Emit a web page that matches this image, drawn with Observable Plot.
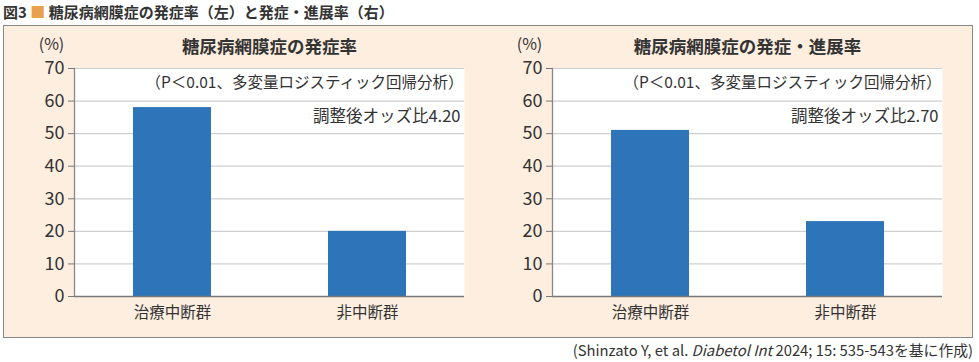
<!DOCTYPE html>
<html><head><meta charset="utf-8">
<script src="https://cdn.jsdelivr.net/npm/d3@7"></script>
<script src="https://cdn.jsdelivr.net/npm/@observablehq/plot@0.6"></script>
<style>
html,body{margin:0;padding:0;background:#fff;}
body{width:979px;height:362px;position:relative;overflow:hidden;font-family:"Noto Sans CJK JP","Noto Sans",sans-serif;color:#333;}
#title{position:absolute;left:3px;top:1px;font-size:15px;font-weight:bold;color:#333;white-space:nowrap;}
#title .sq{color:#e9a04c;}
#box{position:absolute;left:3px;top:25px;width:968px;height:311px;background:#fdeee0;border:1.5px solid #888;}
.panel{position:absolute;top:25px;}
#caption{position:absolute;right:6px;top:339px;font-size:14.8px;color:#333;white-space:nowrap;}
</style></head>
<body>
<div id="title">図3 <span class="sq">■</span> 糖尿病網膜症の発症率（左）と発症・進展率（右）</div>
<div id="box"></div>
<div id="left" class="panel" style="left:5px"></div>
<div id="right" class="panel" style="left:483px"></div>
<div id="caption">(Shinzato Y, et al. <i>Diabetol Int</i> 2024; 15: 535-543を基に作成)</div>
<script>
const categories = ["治療中断群", "非中断群"];
const leftValues = [58, 20];
const rightValues = [51, 23];
const yTicks = [0, 10, 20, 30, 40, 50, 60, 70];
const panelTitles = ["糖尿病網膜症の発症率", "糖尿病網膜症の発症・進展率"];
const pNote = "（P＜0.01、多変量ロジスティック回帰分析）";
const oddsNotes = ["調整後オッズ比4.20", "調整後オッズ比2.70"];
const unitLabel = "(%)";

const font = '"Noto Sans CJK JP","Noto Sans",sans-serif';

function makePanel(values, title, odds) {
  const data = categories.map((c, i) => ({cat: c, v: values[i]}));
  return Plot.plot({
    width: 479,
    height: 310,
    marginLeft: 69,
    marginRight: 20,
    marginTop: 43,
    marginBottom: 39,
    style: {fontFamily: font, background: "transparent", color: "#333", overflow: "visible"},
    x: {domain: categories, paddingInner: 0.6, paddingOuter: 0.3, label: null},
    y: {domain: [0, 70], ticks: yTicks, label: null},
    marks: [
      Plot.frame({fill: "white", stroke: null}),
      Plot.gridY(yTicks, {stroke: "#cfcfcf", strokeOpacity: 1, strokeWidth: 1.2}),
      Plot.barY(data, {x: "cat", y: "v", fill: "#2e74b8"}),
      Plot.ruleY([0], {stroke: "#777", strokeWidth: 1.3}),
      Plot.frame({anchor: "left", stroke: "#888", strokeWidth: 1.3}),
      Plot.axisY({ticks: yTicks, tickSize: 6, tickPadding: 4, fontSize: 18, stroke: "#777", fill: "#333"}),
      Plot.axisX({tickSize: 0, tickPadding: 10, fontSize: 15.5, fill: "#333"}),
      Plot.text([title], {frameAnchor: "top", dy: -21, fontSize: 17.5, fontWeight: "bold", fill: "#333", lineAnchor: "middle"}),
      Plot.text([unitLabel], {frameAnchor: "top-left", dx: -23, dy: -24, fontSize: 16, fill: "#333", textAnchor: "middle", lineAnchor: "middle"}),
      Plot.text([pNote], {frameAnchor: "top-right", dx: -1, dy: 15, fontSize: 15.5, fill: "#333", textAnchor: "end", lineAnchor: "middle"}),
      Plot.text([odds], {frameAnchor: "top-right", dx: -4, dy: 48, fontSize: 16.5, fill: "#333", textAnchor: "end", lineAnchor: "middle"})
    ]
  });
}

document.getElementById("left").append(makePanel(leftValues, panelTitles[0], oddsNotes[0]));
document.getElementById("right").append(makePanel(rightValues, panelTitles[1], oddsNotes[1]));
</script>
</body></html>
